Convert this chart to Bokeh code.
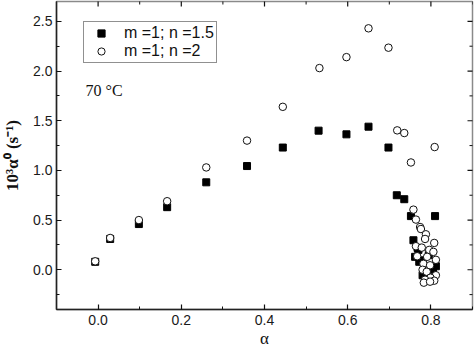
import math
from bokeh.plotting import figure
from bokeh.models import (Range1d, LinearAxis, Legend, LegendItem, Label,
                          SingleIntervalTicker, PrintfTickFormatter)
from bokeh.embed import file_html
from bokeh.resources import INLINE

# n = 1.5 (filled squares)
alpha_sq = [-0.007, 0.029, 0.098, 0.166, 0.260, 0.358, 0.444, 0.530, 0.597, 0.650,
            0.698, 0.718, 0.736, 0.752, 0.810, 0.758, 0.770, 0.762, 0.774, 0.772,
            0.812, 0.780, 0.795, 0.805, 0.768]
rate_sq = [0.08, 0.31, 0.46, 0.63, 0.88, 1.044, 1.23, 1.40, 1.363, 1.44,
           1.23, 0.75, 0.71, 0.54, 0.54, 0.297, 0.20, 0.13, 0.095, 0.08,
           0.035, -0.055, 0.15, 0.0, 0.22]

# n = 2 (open circles)
alpha_ci = [-0.007, 0.029, 0.098, 0.166, 0.260, 0.358, 0.444, 0.532, 0.597, 0.650,
            0.698, 0.719, 0.736, 0.809, 0.752, 0.758, 0.764, 0.774, 0.776, 0.788,
            0.786, 0.808, 0.764, 0.778, 0.796, 0.806, 0.767, 0.791, 0.812, 0.782,
            0.798, 0.780, 0.790, 0.812, 0.799, 0.786, 0.783, 0.808, 0.798]
rate_ci = [0.085, 0.32, 0.50, 0.69, 1.03, 1.30, 1.64, 2.03, 2.14, 2.43,
           2.235, 1.403, 1.376, 1.235, 1.08, 0.605, 0.505, 0.43, 0.41, 0.357,
           0.31, 0.27, 0.237, 0.223, 0.20, 0.18, 0.136, 0.13, 0.10, 0.06,
           0.045, 0.0, -0.02, -0.055, -0.08, -0.10, -0.13, -0.11, -0.12]

x_ticks = [0.0, 0.2, 0.4, 0.6, 0.8]
y_ticks = [0.0, 0.5, 1.0, 1.5, 2.0, 2.5]
series_labels = ["m =1; n =1.5", "m =1; n =2"]
x_title = "α"
y_title = "10³α⁰ (s⁻¹)"
note = "70 °C"

X0, X1, Y0, Y1 = -0.1, 0.9, -0.4, 2.7

p = figure(width=474, height=352, output_backend="svg", toolbar_location=None,
           x_range=Range1d(X0, X1), y_range=Range1d(Y0, Y1),
           min_border_left=53, min_border_right=2, min_border_top=1,
           min_border_bottom=43, x_axis_location=None, y_axis_location=None)
p.grid.visible = False
p.outline_line_color = "#8a8a8a"
p.outline_line_width = 1.5
p.background_fill_color = "white"
p.border_fill_color = "white"

def make_axis(interval):
    ax = LinearAxis(ticker=SingleIntervalTicker(interval=interval, num_minor_ticks=2),
                    formatter=PrintfTickFormatter(format="%.1f"))
    ax.major_tick_in = 5
    ax.major_tick_out = 0
    ax.minor_tick_in = 3
    ax.minor_tick_out = 0
    ax.axis_line_width = 1.5
    ax.axis_line_color = "#222222"
    ax.major_tick_line_width = 1.2
    ax.major_tick_line_color = "#111111"
    ax.minor_tick_line_color = "#111111"
    ax.major_label_text_font = "Liberation Sans"
    ax.major_label_text_font_size = "14px"
    ax.major_label_text_color = "#1a1a1a"
    ax.major_label_standoff = 6
    return ax

xb = make_axis(0.2)
xb.major_label_standoff = 5
xb.axis_label = x_title
xb.axis_label_text_font = "Liberation Serif"
xb.axis_label_text_font_style = "normal"
xb.axis_label_text_font_size = "17px"
xb.axis_label_text_color = "#111111"
xb.axis_label_standoff = 1
yl = make_axis(0.5)
yl.major_label_standoff = 4
yl.axis_label = y_title
yl.axis_label_text_font = "Liberation Serif"
yl.axis_label_text_font_style = "bold"
yl.axis_label_text_font_size = "17px"
yl.axis_label_text_color = "#111111"
yl.axis_label_standoff = 8
p.add_layout(xb, "below")
p.add_layout(yl, "left")

# mirrored inward ticks on the top and right frame edges (clipped to the frame)
x_minor = [(a + b) / 2 for a, b in zip([x_ticks[0] - 0.2] + x_ticks, x_ticks + [x_ticks[-1] + 0.2])]
y_minor = [(a + b) / 2 for a, b in zip([y_ticks[0] - 0.5] + y_ticks, y_ticks + [y_ticks[-1] + 0.5])]
p.scatter(x_ticks, [Y1] * len(x_ticks), marker="dash", size=10, angle=math.pi / 2,
          line_color="#111111", line_width=1.2)
p.scatter(x_minor, [Y1] * len(x_minor), marker="dash", size=6, angle=math.pi / 2,
          line_color="#111111", line_width=1)
p.scatter([X1] * len(y_ticks), y_ticks, marker="dash", size=10,
          line_color="#111111", line_width=1.2)
p.scatter([X1] * len(y_minor), y_minor, marker="dash", size=6,
          line_color="#111111", line_width=1)

sq = p.scatter(alpha_sq, rate_sq, marker="square", size=7, fill_color="black",
               line_color="black")
ci = p.scatter(alpha_ci, rate_ci, marker="circle", size=7.5, fill_color="white",
               line_color="#111111", line_width=1)

legend = Legend(items=[LegendItem(label=series_labels[0], renderers=[sq]),
                       LegendItem(label=series_labels[1], renderers=[ci])],
                location=(27, 246), margin=0, padding=2, spacing=0,
                glyph_width=30, glyph_height=18, label_height=18,
                label_standoff=8, label_text_font="Liberation Sans",
                label_text_font_size="16px", label_text_color="#111111",
                border_line_color="#222222", border_line_width=1,
                background_fill_color="white", background_fill_alpha=1)
p.add_layout(legend)

p.add_layout(Label(x=-0.03, y=1.80, text=note, text_font="Liberation Serif",
                   text_font_size="16px", text_baseline="middle",
                   text_color="#111111"))

open("out.html", "w").write(file_html(p, INLINE))
